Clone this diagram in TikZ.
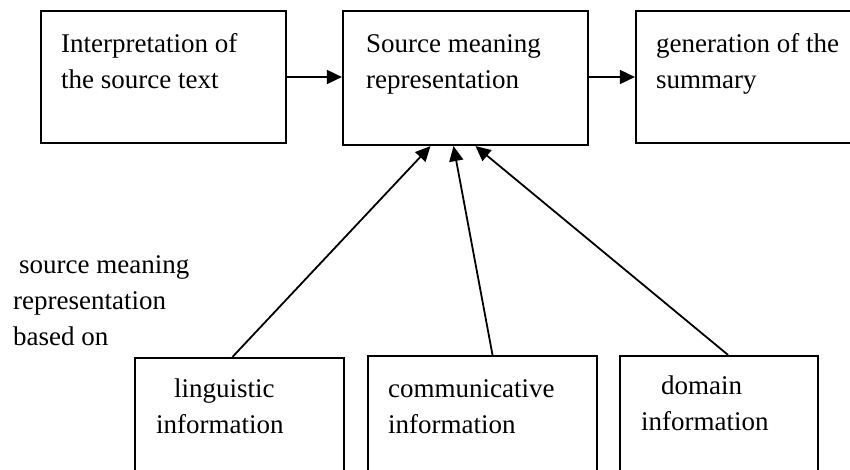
\documentclass[tikz,border=0pt]{standalone}
\usepackage{fontspec}
\setmainfont{Liberation Serif}
\usetikzlibrary{arrows.meta}
\tikzset{
  box/.style={draw, line width=2.2pt, rectangle, inner sep=0pt},
  lbl/.style={anchor=base west, inner sep=0pt, align=left, font=\fontsize{27}{36}\selectfont},
  arr/.style={line width=1.8pt, -{Triangle[length=15pt,width=14pt]}},
}
\begin{document}
\begin{tikzpicture}[x=1pt,y=-1pt]
\useasboundingbox (0,0) rectangle (850,469);
\clip (0,0) rectangle (850,469);
% upper row
\node[box, minimum width=245pt, minimum height=132pt] (interp) at (163.5,77) {};
\node[box, minimum width=245pt, minimum height=134pt] (smr) at (465.5,78) {};
\node[box, minimum width=260pt, minimum height=132pt] (gen) at (766,77) {};
% lower row
\node[box, minimum width=209pt, minimum height=142pt] (ling) at (239.5,429) {};
\node[box, minimum width=229pt, minimum height=144pt] (comm) at (482.5,428) {};
\node[box, minimum width=198pt, minimum height=144pt] (dom) at (719,428) {};
% texts (anchored at the last line)
\node[lbl] (interptxt) at (61,88) {Interpretation of\\the source text};
\node[lbl] (smrtxt) at (366,88) {Source meaning\\representation};
\node[lbl] (gentxt) at (656,88) {generation of the\\summary};
\node[lbl] (basistxt) at (13,345) {\hspace*{6pt}source meaning\\representation\\based on};
\node[lbl] (lingtxt) at (156,433) {\hspace*{18pt}linguistic\\information};
\node[lbl] (commtxt) at (388,433) {communicative\\information};
\node[lbl] (domtxt) at (641,430) {\hspace*{20pt}domain\\information};
% connectors
\draw[arr] (interp.east) -- (interp.east -| smr.west);
\draw[arr] (smr.east |- interp.east) -- (gen.west |- interp.east);
\draw[arr] ([xshift=-7pt]ling.north) -- ([xshift=-35pt]smr.south);
\draw[arr] ([xshift=10pt]comm.north) -- ([xshift=-12pt]smr.south);
\draw[arr] ([xshift=9pt]dom.north) -- ([xshift=10pt]smr.south);
\end{tikzpicture}
\end{document}
